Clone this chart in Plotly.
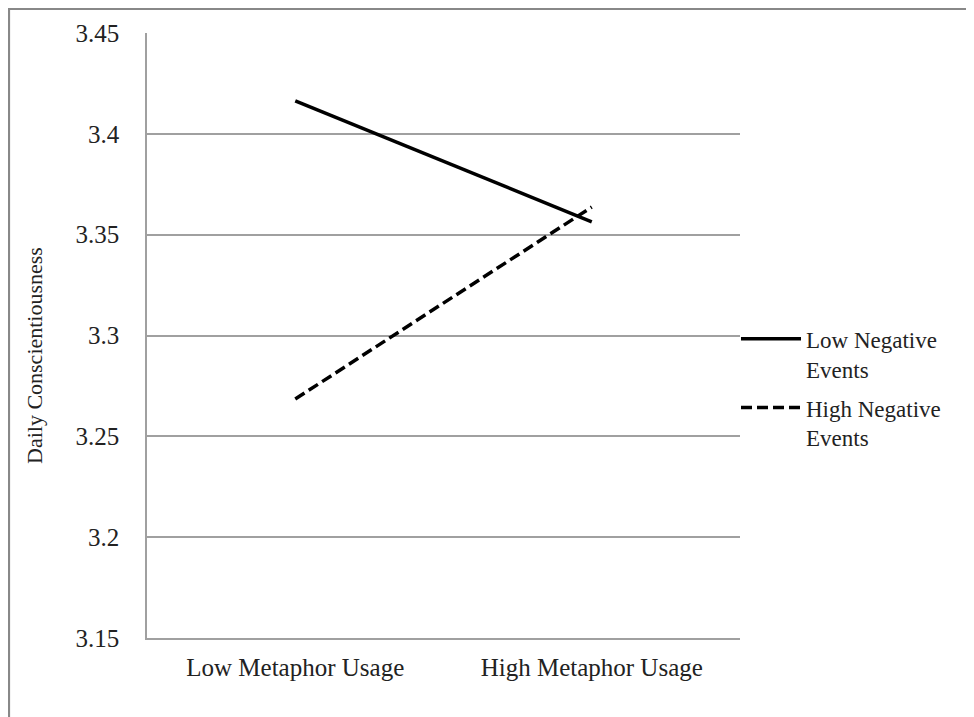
import plotly.graph_objects as go

categories = ["Low Metaphor Usage", "High Metaphor Usage"]
low_negative = [3.4164, 3.3564]
high_negative = [3.2685, 3.3637]
series_names = ["Low Negative<br>Events", "High Negative<br>Events"]
y_ticks = [3.15, 3.2, 3.25, 3.3, 3.35, 3.4, 3.45]
y_tick_labels = ["3.15", "3.2", "3.25", "3.3", "3.35", "3.4", "3.45"]
y_title = "Daily Conscientiousness"

FONT = "Liberation Serif"
FS = 25
ML, MT, PW, PH = 139, 25, 593, 605

fig = go.Figure()
fig.add_trace(go.Scatter(x=categories, y=low_negative, mode="lines", name=series_names[0],
                         legendgroup="a",
                         line=dict(color="black", width=3.5)))
fig.add_trace(go.Scatter(x=categories, y=high_negative, mode="lines", name=series_names[1],
                         legendgroup="b",
                         line=dict(color="black", width=3.5, dash="11px,5px")))

fig.update_layout(
    width=974, height=717,
    margin=dict(l=ML, r=974 - ML - PW, t=MT, b=717 - MT - PH),
    paper_bgcolor="white", plot_bgcolor="white",
    font=dict(family=FONT, size=FS, color="#222"),
    showlegend=True,
    legend=dict(x=1 - 4 / PW, xanchor="left", y=0.53, yanchor="top", valign="top",
                itemwidth=60, tracegroupgap=6, bgcolor="rgba(0,0,0,0)",
                font=dict(family=FONT, size=23, color="#222"),
                borderwidth=0),
    xaxis=dict(type="category", range=[-0.5, 1.5], showgrid=False,
               showline=True, linecolor="#a0a0a0", linewidth=1.5,
               ticks="", tickfont=dict(family=FONT, size=FS, color="#222"),
               ticklabelstandoff=6),
    yaxis=dict(range=[3.15, 3.45], tickvals=y_ticks, ticktext=y_tick_labels,
               showgrid=True, gridcolor="#a0a0a0", gridwidth=1.5,
               showline=True, linecolor="#a0a0a0", linewidth=1.5,
               zeroline=False, ticks="", ticklabelstandoff=21,
               tickfont=dict(family=FONT, size=FS, color="#222")),
    annotations=[dict(text=y_title, textangle=-90, xref="paper", yref="paper",
                      x=(26 - ML) / PW, y=(MT + PH - 348) / PH,
                      xanchor="center", yanchor="middle", showarrow=False,
                      font=dict(family=FONT, size=22, color="#222"))],
    shapes=[dict(type="rect", xref="paper", yref="paper",
                 x0=(1 - ML) / PW, x1=2.0, y0=-1.0, y1=(MT + PH - 1) / PH,
                 line=dict(color="#888888", width=2.2), fillcolor="rgba(0,0,0,0)",
                 layer="below")],
)

fig.write_html("out.html")
